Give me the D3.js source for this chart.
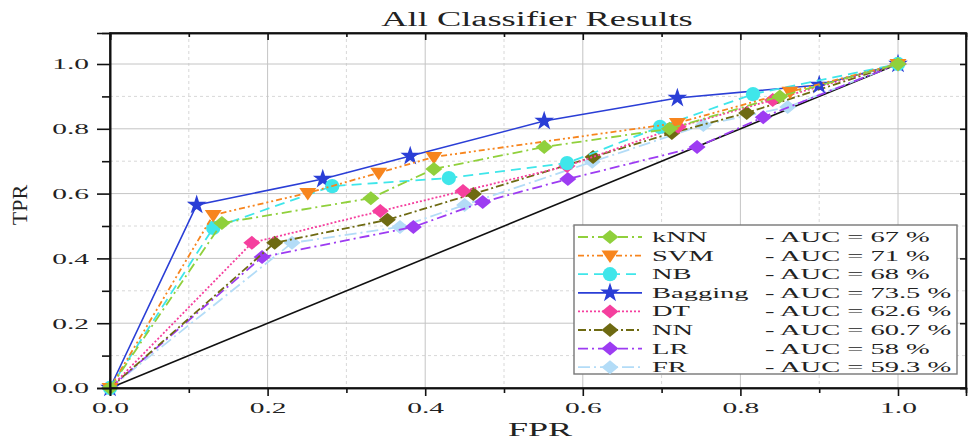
<!DOCTYPE html>
<meta charset="utf-8">
<style>
  body { margin: 0; background: #fff; }
  text { font-family: "Liberation Serif", "Times New Roman", serif; fill: #222; }
</style>
<body>
<div id="chart"></div>
<script src="https://cdn.jsdelivr.net/npm/d3@7"></script>
<script>
  // roc points for each classifier (fpr, tpr)
  var names = ["kNN", "SVM", "NB", "Bagging", "DT", "NN", "LR", "FR"];
  var aucs = ["67", "71", "68", "73.5", "62.6", "60.7", "58", "59.3"];
  var fpr = [
    [0, 0.142, 0.331, 0.411, 0.551, 0.71, 0.85, 1],
    [0, 0.131, 0.251, 0.341, 0.411, 0.72, 0.863, 1],
    [0, 0.131, 0.282, 0.430, 0.580, 0.698, 0.816, 1],
    [0, 0.110, 0.270, 0.381, 0.551, 0.720, 0.900, 1],
    [0, 0.180, 0.343, 0.448, 0.580, 0.721, 0.841, 1],
    [0, 0.209, 0.352, 0.461, 0.613, 0.713, 0.808, 1],
    [0, 0.193, 0.385, 0.473, 0.581, 0.745, 0.829, 1],
    [0, 0.231, 0.368, 0.450, 0.612, 0.753, 0.860, 1]
  ];
  var tpr = [
    [0, 0.509, 0.586, 0.676, 0.744, 0.80, 0.90, 1],
    [0, 0.534, 0.602, 0.664, 0.713, 0.818, 0.914, 1],
    [0, 0.494, 0.623, 0.648, 0.694, 0.806, 0.907, 1],
    [0, 0.565, 0.645, 0.716, 0.824, 0.895, 0.935, 1],
    [0, 0.448, 0.546, 0.608, 0.685, 0.806, 0.889, 1],
    [0, 0.448, 0.519, 0.599, 0.713, 0.787, 0.849, 1],
    [0, 0.404, 0.497, 0.574, 0.645, 0.744, 0.836, 1],
    [0, 0.448, 0.497, 0.565, 0.698, 0.812, 0.867, 1]
  ];
  var majorTicks = [0, 0.2, 0.4, 0.6, 0.8, 1.0];
  var minorTicks = [0.1, 0.3, 0.5, 0.7, 0.9];

  var colors = ["#90d03c", "#f7851e", "#3fe6ea", "#2a3ed6", "#f53f9e", "#6e6a12", "#9d3cf2", "#b3dcf7"];
  var dashes = ["10,4,2,4", "6,3,2,3,2,3", "10,6", null, "2,2", "8,3,2,3", "10,4,2,4", "12,4,2,4"];
  var shapes = ["diamond", "down", "circle", "star", "diamond", "diamond", "diamond", "diamond"];

  var W = 969, H = 443;
  var pL = 110, pR = 966, pT = 33, pB = 388;
  var sx = 1.9; // the picture's text is stretched sideways

  var x = d3.scaleLinear().domain([0, (pR - pL) / 788]).range([pL, pR]);
  var y = d3.scaleLinear().domain([0, (pB - pT) / 324]).range([pB, pT]);

  var svg = d3.select("#chart").append("svg").attr("width", W).attr("height", H);

  // grid
  svg.selectAll("line.vmin").data(minorTicks).enter().append("line")
    .attr("x1", d => x(d)).attr("x2", d => x(d)).attr("y1", pT).attr("y2", pB)
    .attr("stroke", "#d8d8d8").attr("stroke-dasharray", "3,3");
  svg.selectAll("line.hmin").data(minorTicks).enter().append("line")
    .attr("y1", d => y(d)).attr("y2", d => y(d)).attr("x1", pL).attr("x2", pR)
    .attr("stroke", "#d8d8d8").attr("stroke-dasharray", "3,3");
  svg.selectAll("line.vmaj").data(majorTicks.slice(1)).enter().append("line")
    .attr("x1", d => x(d)).attr("x2", d => x(d)).attr("y1", pT).attr("y2", pB)
    .attr("stroke", "#c4c4c4");
  svg.selectAll("line.hmaj").data(majorTicks.slice(1)).enter().append("line")
    .attr("y1", d => y(d)).attr("y2", d => y(d)).attr("x1", pL).attr("x2", pR)
    .attr("stroke", "#c4c4c4");

  // diagonal
  svg.append("line").attr("x1", x(0)).attr("y1", y(0)).attr("x2", x(1)).attr("y2", y(1))
    .attr("stroke", "#111").attr("stroke-width", 1.6);

  function marker(shape) {
    if (shape == "diamond") return "M-8.5,0L0,-7L8.5,0L0,7Z";
    if (shape == "down") return "M-8.5,-5L8.5,-5L0,7.5Z";
    if (shape == "circle") return d3.symbol(d3.symbolCircle, 160)();
    return d3.symbol(d3.symbolStar, 120)();
  }

  var line = d3.line().x(d => x(d[0])).y(d => y(d[1]));

  for (var k = names.length - 1; k >= 0; k--) {
    var pts = fpr[k].map((f, i) => [f, tpr[k][i]]);
    svg.append("path").datum(pts).attr("d", line)
      .attr("fill", "none").attr("stroke", colors[k])
      .attr("stroke-width", k == 3 ? 1.6 : 1.8)
      .attr("stroke-dasharray", dashes[k]);
    svg.selectAll(null).data(pts).enter().append("path")
      .attr("transform", d => "translate(" + x(d[0]) + "," + y(d[1]) + ")")
      .attr("d", marker(shapes[k])).attr("fill", colors[k]);
  }

  // axes
  function stretchText(g) {
    g.selectAll("text").attr("transform", "scale(" + sx + ",1)")
      .attr("x", function () { return (+d3.select(this).attr("x") || 0) / sx; });
  }
  var xb = svg.append("g").attr("transform", "translate(0," + pB + ")")
    .call(d3.axisBottom(x).tickValues(majorTicks).tickFormat(d3.format(".1f")).tickSize(8).tickPadding(6));
  svg.append("g").attr("transform", "translate(0," + pB + ")")
    .call(d3.axisBottom(x).tickValues(minorTicks).tickFormat("").tickSize(5));
  var yl = svg.append("g").attr("transform", "translate(" + pL + ",0)")
    .call(d3.axisLeft(y).tickValues(majorTicks).tickFormat(d3.format(".1f")).tickSize(13).tickPadding(8));
  svg.append("g").attr("transform", "translate(" + pL + ",0)")
    .call(d3.axisLeft(y).tickValues(minorTicks).tickFormat("").tickSize(8));
  svg.append("g").attr("transform", "translate(0," + pT + ")")
    .call(d3.axisBottom(x).tickValues(majorTicks).tickFormat("").tickSize(7));
  svg.append("g").attr("transform", "translate(0," + pT + ")")
    .call(d3.axisBottom(x).tickValues(minorTicks).tickFormat("").tickSize(4));
  svg.append("g").attr("transform", "translate(" + pR + ",0)")
    .call(d3.axisLeft(y).tickValues(majorTicks).tickFormat("").tickSize(6));

  [xb, yl].forEach(function (g) {
    g.selectAll("text").attr("font-size", 15.5).attr("font-family", "Liberation Serif").attr("fill", "#222");
  });
  stretchText(xb);
  stretchText(yl);
  svg.selectAll(".domain").attr("stroke", "#111").attr("stroke-width", 1.6);
  svg.selectAll(".tick line").attr("stroke", "#111").attr("stroke-width", 1.6);

  // frame
  svg.append("rect").attr("x", pL).attr("y", pT).attr("width", pR - pL).attr("height", pB - pT)
    .attr("fill", "none").attr("stroke", "#111").attr("stroke-width", 1.6);

  // titles
  svg.append("text").attr("transform", "translate(537,26) scale(1.82,1)")
    .attr("text-anchor", "middle").attr("font-size", 20).text("All Classifier Results");
  svg.append("text").attr("transform", "translate(540,436) scale(1.9,1)")
    .attr("text-anchor", "middle").attr("font-size", 19).text("FPR");
  svg.append("text").attr("transform", "translate(27,205) rotate(-90)")
    .attr("text-anchor", "middle").attr("font-size", 22).text("TPR");

  // legend
  var lg = svg.append("g");
  lg.append("rect").attr("x", 574).attr("y", 225).attr("width", 383).attr("height", 149)
    .attr("fill", "#fff").attr("stroke", "#777").attr("stroke-width", 1.4);
  var rows = lg.selectAll("g.row").data(names).enter().append("g")
    .attr("transform", (d, i) => "translate(0," + (237 + i * 18.6) + ")");
  rows.append("line").attr("x1", 578).attr("x2", 642)
    .attr("stroke", (d, i) => colors[i]).attr("stroke-width", 1.8)
    .attr("stroke-dasharray", (d, i) => dashes[i]);
  rows.append("path").attr("transform", "translate(610,0)")
    .attr("d", (d, i) => marker(shapes[i])).attr("fill", (d, i) => colors[i]);
  rows.append("text").attr("transform", "translate(652,5) scale(1.9,1)")
    .attr("font-size", 15).text(d => d);
  rows.append("text").attr("transform", "translate(765,5) scale(1.9,1)")
    .attr("font-size", 15).text((d, i) => "- AUC = " + aucs[i] + " %");
</script>
</body>
